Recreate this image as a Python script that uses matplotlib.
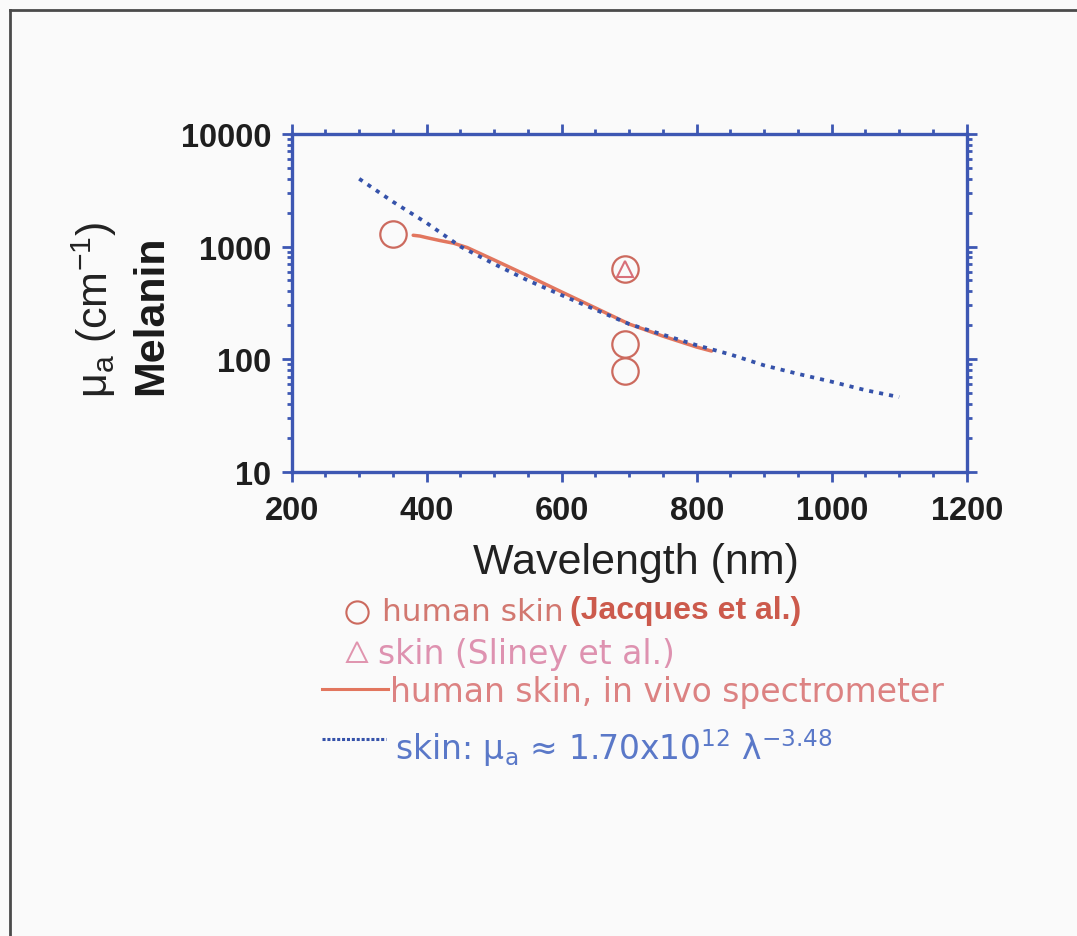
import numpy as np
import matplotlib.pyplot as plt
from matplotlib.lines import Line2D
from matplotlib.ticker import FixedLocator, LogLocator, NullFormatter

# Data
blue_wl = [300, 350, 400, 450, 500, 550, 600, 650, 700, 750, 800, 850, 900, 950, 1000, 1050, 1100]
blue_mua = [4000, 2500, 1620, 1000, 700, 500, 370, 275, 205, 165, 133, 110, 88, 74, 63, 53, 46]

red_wl = [380, 390, 400, 420, 440, 460, 500, 550, 600, 650, 700, 750, 800, 822]
red_mua = [1260, 1240, 1200, 1130, 1070, 980, 760, 550, 395, 285, 205, 160, 128, 118]

jacques_wl = [350, 694, 694, 694]
jacques_mua = [1300, 630, 137, 79]

sliney_wl = [694]
sliney_mua = [630]

x_ticks = [200, 400, 600, 800, 1000, 1200]
y_ticks = [10, 100, 1000, 10000]

axis_blue = '#3d57b3'
red_line = '#e2765e'
blue_dots = '#3552aa'
circle_col = '#cc6a5e'
tri_col = '#d8707a'
bg = '#fafafa'

W, H = 1077, 937
fig = plt.figure(figsize=(W / 100, H / 100), dpi=100, facecolor=bg)

def fx(px):
    return px / W

def fy(py):
    return 1 - py / H

ax = fig.add_axes([fx(291.7), fy(472.7), fx(966.7) - fx(291.7), fy(135) - fy(472.7)])
ax.set_facecolor(bg)

ax.plot(red_wl, red_mua, color=red_line, lw=2.5, solid_capstyle='round', zorder=2)
ax.plot(blue_wl, blue_mua, color=blue_dots, lw=2.7, dashes=[1.1, 1.6], zorder=3)
ax.plot(jacques_wl, jacques_mua, 'o', ms=19, mfc='none', mec=circle_col, mew=1.6, zorder=4)
ax.plot(sliney_wl, sliney_mua, '^', ms=11, mfc='none', mec=tri_col, mew=1.5, zorder=4)

ax.set_yscale('log')
ax.set_xlim(200, 1200)
ax.set_ylim(10, 10000)

for s in ax.spines.values():
    s.set_color(axis_blue)
    s.set_linewidth(2.4)

ax.xaxis.set_major_locator(FixedLocator(x_ticks))
ax.xaxis.set_minor_locator(FixedLocator(np.arange(250, 1200, 50)))
ax.yaxis.set_major_locator(FixedLocator(y_ticks))
ax.yaxis.set_minor_locator(LogLocator(base=10, subs=np.arange(2, 10)))
ax.yaxis.set_minor_formatter(NullFormatter())
ax.set_yticklabels([str(v) for v in y_ticks])
ax.set_xticklabels([str(v) for v in x_ticks])

ax.tick_params(which='both', direction='out', color=axis_blue, width=2.0,
               top=True, right=True)
ax.tick_params(which='major', length=7.5)
ax.tick_params(which='minor', length=3.5)
ax.tick_params(axis='x', which='major', pad=9)
ax.tick_params(axis='y', which='major', pad=7)
for lab in ax.get_xticklabels() + ax.get_yticklabels():
    lab.set_fontfamily('Liberation Sans')
    lab.set_fontweight('bold')
    lab.set_fontsize(23.5)
    lab.set_color('#1e1e1e')

# axis titles
fig.text(fx(636), fy(563), 'Wavelength (nm)', ha='center', va='center',
         fontsize=31, family='Liberation Sans', color='#222222')
fig.text(fx(151), fy(315), 'Melanin', ha='center', va='center', rotation=90,
         fontsize=31, fontweight='bold', family='Liberation Sans', color='#1a1a1a')
fig.text(fx(94), fy(310), r'$\mathregular{\mu_a}$ (cm$\mathregular{^{-1}}$)', ha='center', va='center',
         rotation=90, fontsize=31, family='Liberation Sans', color='#222222')

# legend
leg_font = 'DejaVu Sans'
leg_size = 23.8
fig.add_artist(Line2D([fx(357)], [fy(613)], marker='o', ms=16, mfc='none',
                      mec=circle_col, mew=1.5, transform=fig.transFigure))
t_human = fig.text(fx(382), fy(613), 'human skin', ha='left', va='center', fontsize=22.5,
                   family=leg_font, color='#d27870')
renderer = fig.canvas.get_renderer()
x_end = t_human.get_window_extent(renderer).x1
fig.text((x_end + 6) / W, fy(611), '(Jacques et al.)', ha='left', va='center', fontsize=23,
         family='Liberation Sans', fontweight='bold', color='#cc5a4c')

fig.add_artist(Line2D([fx(357)], [fy(653)], marker='^', ms=15, mfc='none',
                      mec='#e094ae', mew=1.4, transform=fig.transFigure))
fig.text(fx(378), fy(655), 'skin (Sliney et al.)', ha='left', va='center', fontsize=leg_size,
         family=leg_font, color='#de92b0')

fig.add_artist(Line2D([fx(322), fx(388)], [fy(690), fy(690)], color=red_line, lw=2.2,
                      transform=fig.transFigure))
fig.text(fx(390), fy(693), 'human skin, in vivo spectrometer', ha='left', va='center',
         fontsize=leg_size, family=leg_font, color='#dc8282')

fig.add_artist(Line2D([fx(322), fx(386)], [fy(740), fy(740)], color=blue_dots, lw=2.2,
                      dashes=[1, 0.6], transform=fig.transFigure))
fig.text(fx(395), fy(748),
         r'skin: $\mathregular{\mu_a}$ ≈ 1.70x10$\mathregular{^{12}}$ λ$\mathregular{^{-3.48}}$',
         ha='left', va='center', fontsize=leg_size, family=leg_font, color='#5a78c8')

# outer frame (top and left edges only)
fig.add_artist(Line2D([fx(10), 1], [fy(11), fy(11)], color='#4a4a4a', lw=2.0,
                      transform=fig.transFigure))
fig.add_artist(Line2D([fx(10), fx(10)], [fy(11), 0], color='#4a4a4a', lw=2.0,
                      transform=fig.transFigure))

fig.savefig('out.png', dpi=100, facecolor=bg)
